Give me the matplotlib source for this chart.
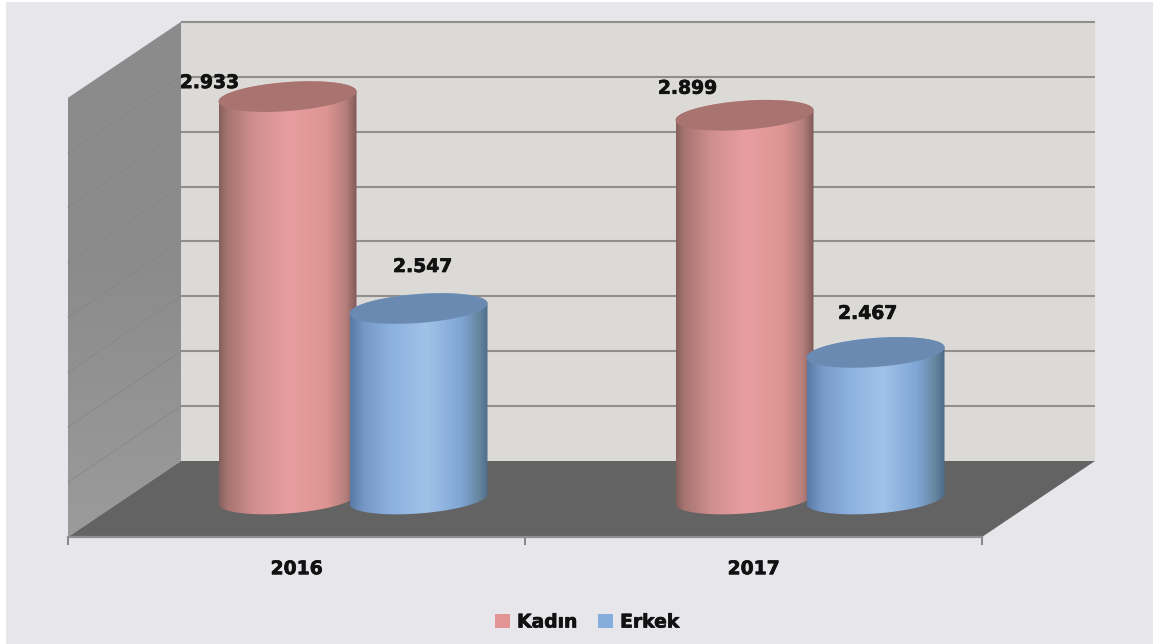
import numpy as np
import matplotlib
matplotlib.use('Agg')
import matplotlib.pyplot as plt
import matplotlib.patheffects as pe
from matplotlib.colors import LinearSegmentedColormap
from matplotlib.patches import Patch, Polygon, Rectangle

# Values
years = ['2016', '2017']
kadin = [2933, 2899]
erkek = [2547, 2467]
series_names = ['Kadın', 'Erkek']
grid_values = [2300, 2400, 2500, 2600, 2700, 2800, 2900, 3000]

y_min = 2200

# Scale of the picture: pixels per category and per value unit
px_x = 457
px_y = 0.549

# The 3D box is faked by shifting the back of the box up and to the right
depth_x = 113 / px_x
depth_y = 76 / px_y
bar_width = 138 / px_x
bar_step = 131 / px_x
cap_b = 14.5 / px_y
cap_shear = 5 / px_y

pink_cmap = LinearSegmentedColormap.from_list('pink', [
    (0.0, '#86605d'), (0.06, '#a67471'), (0.25, '#cf8f8d'), (0.5, '#e89e9f'),
    (0.78, '#dd9592'), (0.92, '#b67f7c'), (1.0, '#805a58')])
blue_cmap = LinearSegmentedColormap.from_list('blue', [
    (0.0, '#587aa4'), (0.1, '#7598c6'), (0.3, '#8eb2e0'), (0.55, '#9fc2e8'),
    (0.8, '#80a6d6'), (0.93, '#66869f'), (1.0, '#4d6a8a')])
cap_colors = ['#a9736f', '#6b8ab2']
swatch_colors = ['#e29494', '#86aedd']
series_cmaps = [pink_cmap, blue_cmap]

# Offsets of the value labels from the top of each cylinder, in pixels
label_offsets = [[(-78, 14), (4, 42)], [(-57, 27), (-8, 39)]]

bold_stroke = [pe.withStroke(linewidth=0.5, foreground='#111111')]


def backPoint(x, y, depth=1.0):
    """Moves a point of the front plane to the given depth of the box."""
    return (x + depth * depth_x, y + depth * depth_y)


def ellipsePoints(cx, cy, t):
    """Points on a tilted ellipse that is the end of a cylinder."""
    xs = cx + bar_width / 2 * np.cos(t)
    ys = cy + cap_b * np.sin(t) + cap_shear * np.cos(t)
    return np.column_stack([xs, ys])


def drawCylinder(ax, cx, value, cmap, cap_color):
    """Draws one cylinder standing in the middle of the box depth."""
    cx, top = backPoint(cx, value, 0.5)
    _, base = backPoint(cx, y_min, 0.5)
    lower = ellipsePoints(cx, base, np.linspace(np.pi, 2 * np.pi, 80))
    upper = ellipsePoints(cx, top, np.linspace(0, np.pi, 80))
    body = Polygon(np.vstack([lower, upper]), closed=True, transform=ax.transData)
    gradient = np.linspace(0, 1, 256).reshape(1, -1)
    image = ax.imshow(gradient, cmap=cmap, aspect='auto', zorder=4,
                      extent=(cx - bar_width / 2, cx + bar_width / 2, base - 2 * cap_b, top + 2 * cap_b))
    image.set_clip_path(body)
    cap = ellipsePoints(cx, top, np.linspace(0, 2 * np.pi, 160))
    ax.add_patch(Polygon(cap, closed=True, facecolor=cap_color, edgecolor='none', zorder=4))
    return cx, top


fig = plt.figure(figsize=(11.55, 6.44), dpi=100, facecolor='white')
fig.patches.append(Rectangle((6 / 1155, 0), 1147 / 1155, 642 / 644, transform=fig.transFigure,
                             facecolor='#e7e7eb', edgecolor='none', zorder=-5))
ax = fig.add_axes([0, 0, 1, 1])
ax.patch.set_visible(False)
plt.rcParams['font.family'] = 'DejaVu Sans'

# Walls and floor of the box
y_max = grid_values[-1]
side_wall = Polygon([(0, y_min), backPoint(0, y_min), backPoint(0, y_max), (0, y_max)], closed=True,
                    transform=ax.transData)
wall_image = ax.imshow(np.linspace(0, 1, 256).reshape(-1, 1), aspect='auto', zorder=1,
                       cmap=LinearSegmentedColormap.from_list('wall', ['#9b9b9b', '#8c8c8c', '#8b8b8b']),
                       origin='lower', extent=(0, depth_x, y_min, y_max + depth_y))
wall_image.set_clip_path(side_wall)
ax.add_patch(Polygon([backPoint(0, y_min), backPoint(2, y_min), backPoint(2, y_max), backPoint(0, y_max)],
                     closed=True, facecolor='#dcdad7', edgecolor='none', zorder=1))
ax.add_patch(Polygon([(0, y_min), (2, y_min), backPoint(2, y_min), backPoint(0, y_min)],
                     closed=True, facecolor='#636363', edgecolor='none', zorder=2))

# Grid lines run over the back wall and fade along the side wall
for value in grid_values:
    bx, by = backPoint(0, value)
    ex, ey = backPoint(2, value)
    ax.plot([bx, ex], [by, ey], color='#918f8c', lw=1.5, solid_capstyle='butt', zorder=3)
    if value < y_max:
        ax.plot([0, bx], [value, by], color='#858585', lw=0.5, zorder=1.5)

# Cylinders
for i, year in enumerate(years):
    center = i + 0.5
    for j, values in enumerate([kadin, erkek]):
        cx = center + (j - 0.5) * bar_step
        bar_x, bar_y = drawCylinder(ax, cx, values[i], series_cmaps[j], cap_colors[j])
        label = f'{values[i] / 1000:.3f}'
        ax.annotate(label, (bar_x, bar_y), xytext=label_offsets[i][j], textcoords='offset pixels',
                    ha='center', va='center', fontsize=13.5, fontweight='bold', color='#111111', zorder=6,
                    path_effects=bold_stroke)

# Category axis along the front edge of the floor
ax.set_xlim(-68 / px_x, (1155 - 68) / px_x)
ax.set_ylim(y_min - (644 - 537) / px_y, y_min + 537 / px_y)
ax.spines[['top', 'left', 'right']].set_visible(False)
ax.spines['bottom'].set_position(('data', y_min))
ax.spines['bottom'].set_bounds(0, 2)
ax.spines['bottom'].set_color('#8f8f8f')
ax.spines['bottom'].set_linewidth(1.6)
ax.yaxis.set_visible(False)
ax.set_xticks([0, 1, 2])
ax.set_xticklabels([])
ax.tick_params(axis='x', which='major', length=6, width=1.2, color='#777777')
ax.set_xticks([0.5, 1.5], minor=True)
ax.set_xticklabels(years, minor=True, fontsize=13.5, fontweight='bold', color='#111111',
                   path_effects=bold_stroke)
ax.tick_params(axis='x', which='minor', length=0, pad=16)

# Legend
handles = [Patch(facecolor=swatch_colors[k], edgecolor='none', label=series_names[k]) for k in range(2)]
legend = ax.legend(handles=handles, loc='center', bbox_to_anchor=(587 / 1155, 1 - 622 / 644), ncol=2, frameon=False,
                   prop={'size': 13.5, 'weight': 'bold'}, handlelength=0.8, handleheight=0.8, handletextpad=0.4,
                   columnspacing=1.07, labelcolor='#111111')
for text in legend.get_texts():
    text.set_path_effects(bold_stroke)

fig.savefig('out.png', dpi=100, facecolor=fig.get_facecolor())
